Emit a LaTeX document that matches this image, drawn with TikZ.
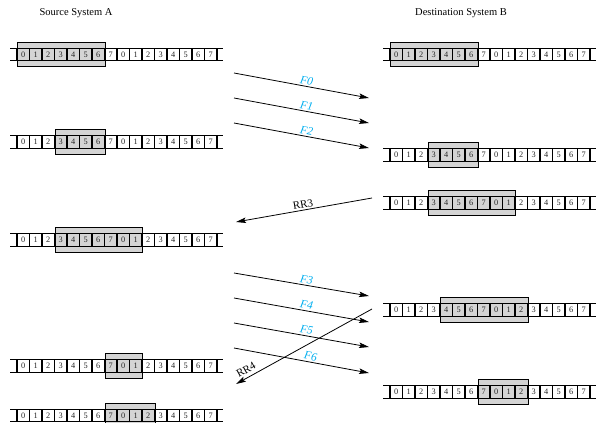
\documentclass[tikz,border=0pt]{standalone}
\usepackage{fontspec}
\setmainfont{Liberation Serif}
\usetikzlibrary{arrows.meta}

\definecolor{framecyan}{RGB}{0,174,239}

\tikzset{
  rail/.style={line width=0.8pt},
  cellsep/.style={line width=1.4pt},
  winbox/.style={draw, line width=0.9pt, fill=black!17, inner sep=0pt,
                 minimum height=24.5pt, anchor=west},
  cellnum/.style={font=\fontsize{8.3}{8.3}\selectfont, inner sep=0pt, text=black!85},
  title/.style={font=\fontsize{10.5}{12}\selectfont, inner sep=0pt},
  msg/.style={line width=0.8pt, -{Stealth[length=10pt,width=5.5pt,inset=2pt]}},
  flabel/.style={font=\itshape\fontsize{11.5}{11.5}\selectfont, text=framecyan,
                 sloped, above=0.5pt, inner sep=1pt},
  rrlabel/.style={font=\fontsize{11}{11}\selectfont, sloped, above=0.5pt, inner sep=1pt},
}

% #1 name, #2 left edge, #3 centre line, #4/#5 first/last cell of the window
\newcommand{\seqrow}[5]{%
  \node[winbox, minimum width={(#5-#4+1)*12.5pt}] (#1win) at ({#2+#4*12.5},#3) {};
  \draw[rail] ({#2-7},{#3-6.3}) -- ({#2+206},{#3-6.3});
  \draw[rail] ({#2-7},{#3+6.3}) -- ({#2+206},{#3+6.3});
  \foreach \k in {0,...,16}{
    \draw[cellsep] ({#2+\k*12.5},{#3-6.3}) -- ({#2+\k*12.5},{#3+6.3});
  }
  \foreach \k in {0,...,15}{
    \pgfmathtruncatemacro\seqno{mod(\k,8)}
    \node[cellnum] (#1n\k) at ({#2+(\k+0.5)*12.5},#3) {\seqno};
  }
}

\begin{document}
\begin{tikzpicture}[x=1pt,y=-1pt]
  \useasboundingbox (0,0) rectangle (600,423);

  \node[title] (srcA) at (76,13) {Source System A};
  \node[title] (dstB) at (461,13) {Destination System B};

  % sender side
  \seqrow{a1}{17}{54.5}{0}{6}
  \seqrow{a2}{17}{142}{3}{6}
  \seqrow{a3}{17}{240}{3}{9}
  \seqrow{a4}{17}{366}{7}{9}
  \seqrow{a5}{17}{415.5}{7}{10}

  % receiver side
  \seqrow{b1}{390}{54.5}{0}{6}
  \seqrow{b2}{390}{155}{3}{6}
  \seqrow{b3}{390}{203}{3}{9}
  \seqrow{b4}{390}{310}{4}{10}
  \seqrow{b5}{390}{392}{7}{10}

  % end points of the frames and acknowledgements
  \coordinate (f0s) at (234,73);  \coordinate (f0e) at (369,98);
  \coordinate (f1s) at (234,98);  \coordinate (f1e) at (369,123);
  \coordinate (f2s) at (234,123); \coordinate (f2e) at (369,148);
  \coordinate (r3s) at (372,198); \coordinate (r3e) at (236,222);
  \coordinate (f3s) at (234,273); \coordinate (f3e) at (369,296);
  \coordinate (f4s) at (234,298); \coordinate (f4e) at (369,322);
  \coordinate (f5s) at (234,323); \coordinate (f5e) at (369,347);
  \coordinate (f6s) at (234,348); \coordinate (f6e) at (369,373);
  \coordinate (r4s) at (372,309); \coordinate (r4e) at (236,384);

  \draw[msg] (f0s) -- node[flabel, pos=0.53] (lf0) {F0} (f0e);
  \draw[msg] (f1s) -- node[flabel, pos=0.53] (lf1) {F1} (f1e);
  \draw[msg] (f2s) -- node[flabel, pos=0.53] (lf2) {F2} (f2e);
  \draw[msg] (r3s) -- node[rrlabel, pos=0.5] (lr3) {RR3} (r3e);
  \draw[msg] (f3s) -- node[flabel, pos=0.53] (lf3) {F3} (f3e);
  \draw[msg] (f4s) -- node[flabel, pos=0.53] (lf4) {F4} (f4e);
  \draw[msg] (f5s) -- node[flabel, pos=0.53] (lf5) {F5} (f5e);
  \draw[msg] (f6s) -- node[flabel, pos=0.56] (lf6) {F6} (f6e);
  \draw[msg] (r4s) -- node[rrlabel, pos=0.9, above=2pt] (lr4) {RR4} (r4e);
\end{tikzpicture}
\end{document}
